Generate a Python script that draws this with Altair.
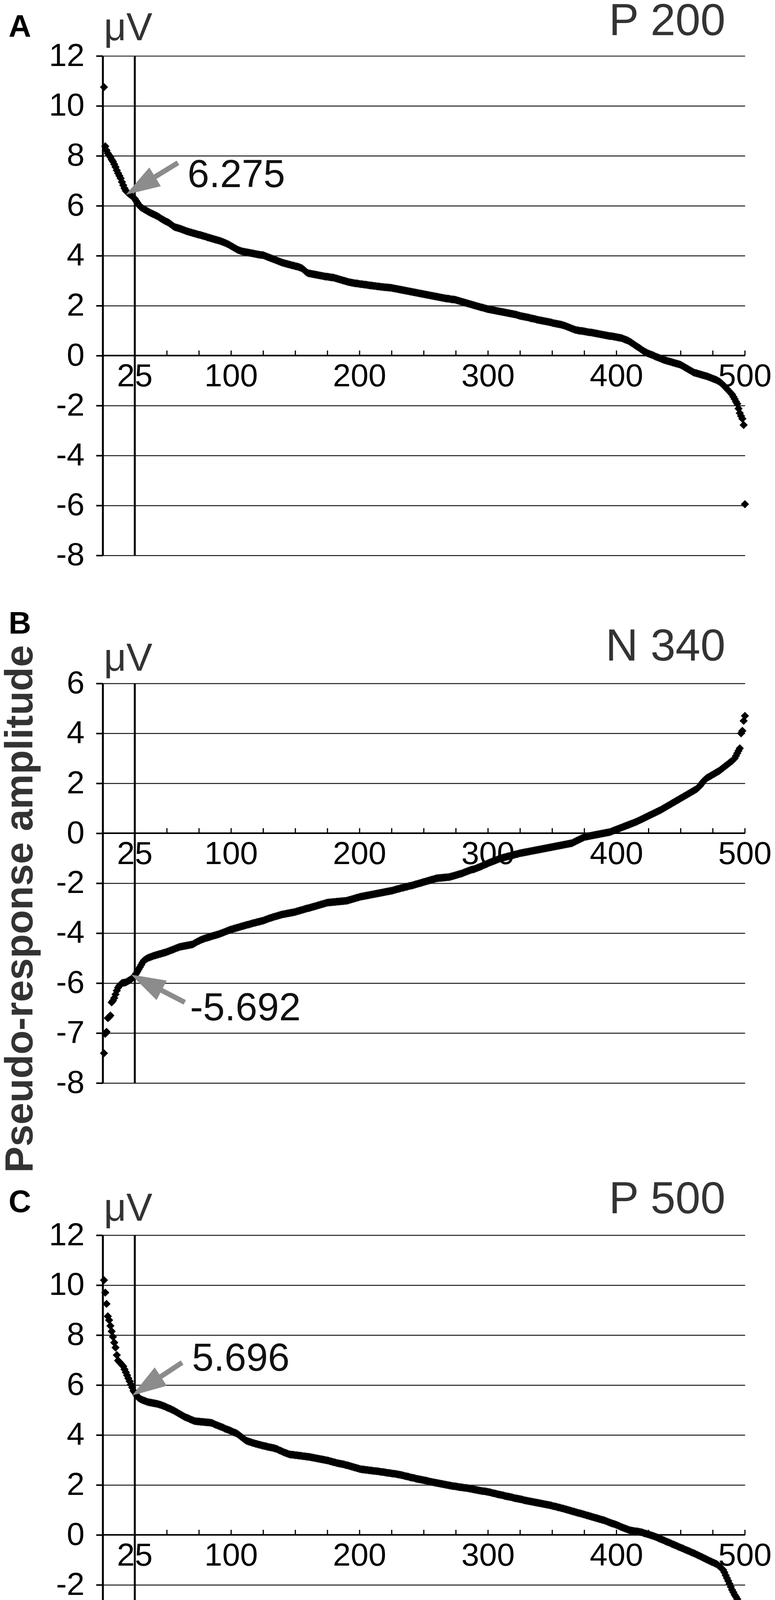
import math
import altair as alt
import pandas as pd

FONT = "Liberation Sans, Arial, Helvetica, sans-serif"

# ---------------- data ----------------
# P 200 : sorted pseudo-response amplitudes (µV), index 1..500
a_vals = [
    10.75, 8.38, 8.22, 8.1, 8.02, 7.95, 7.85, 7.77, 7.66, 7.55,
    7.42, 7.3, 7.2, 7.1, 6.95, 6.82, 6.7, 6.6, 6.55, 6.5,
    6.46, 6.42, 6.38, 6.33, 6.28, 6.2, 6.12, 6.05, 5.98, 5.93,
    5.9, 5.87, 5.84, 5.81, 5.78, 5.75, 5.72, 5.7, 5.67, 5.65,
    5.62, 5.6, 5.57, 5.54, 5.5, 5.47, 5.44, 5.41, 5.38, 5.36,
    5.33, 5.3, 5.26, 5.22, 5.18, 5.15, 5.13, 5.12, 5.1, 5.09,
    5.07, 5.05, 5.03, 5.01, 4.99, 4.97, 4.96, 4.94, 4.93, 4.91,
    4.9, 4.88, 4.87, 4.85, 4.84, 4.83, 4.81, 4.8, 4.78, 4.77,
    4.75, 4.73, 4.72, 4.7, 4.69, 4.67, 4.66, 4.64, 4.63, 4.61,
    4.6, 4.58, 4.56, 4.54, 4.52, 4.5, 4.47, 4.45, 4.42, 4.39,
    4.36, 4.33, 4.3, 4.27, 4.24, 4.22, 4.2, 4.18, 4.17, 4.16,
    4.15, 4.14, 4.13, 4.12, 4.11, 4.1, 4.09, 4.08, 4.07, 4.06,
    4.05, 4.04, 4.03, 4.03, 4.02, 4.0, 3.98, 3.96, 3.94, 3.92,
    3.9, 3.88, 3.86, 3.84, 3.82, 3.8, 3.78, 3.76, 3.74, 3.72,
    3.71, 3.69, 3.68, 3.66, 3.65, 3.64, 3.62, 3.61, 3.6, 3.58,
    3.57, 3.56, 3.54, 3.52, 3.5, 3.46, 3.42, 3.37, 3.33, 3.3,
    3.29, 3.28, 3.27, 3.26, 3.25, 3.24, 3.23, 3.22, 3.21, 3.2,
    3.19, 3.18, 3.17, 3.16, 3.16, 3.15, 3.14, 3.13, 3.13, 3.12,
    3.1, 3.09, 3.07, 3.06, 3.04, 3.03, 3.01, 3.0, 2.98, 2.97,
    2.95, 2.94, 2.93, 2.92, 2.91, 2.9, 2.89, 2.89, 2.88, 2.87,
    2.86, 2.86, 2.85, 2.84, 2.84, 2.83, 2.82, 2.81, 2.81, 2.8,
    2.79, 2.79, 2.78, 2.77, 2.77, 2.76, 2.75, 2.75, 2.74, 2.74,
    2.73, 2.73, 2.72, 2.72, 2.71, 2.7, 2.69, 2.68, 2.67, 2.66,
    2.65, 2.64, 2.63, 2.62, 2.61, 2.6, 2.59, 2.58, 2.57, 2.56,
    2.55, 2.54, 2.53, 2.52, 2.51, 2.5, 2.49, 2.48, 2.47, 2.46,
    2.45, 2.44, 2.43, 2.42, 2.41, 2.4, 2.39, 2.38, 2.37, 2.36,
    2.35, 2.34, 2.33, 2.32, 2.31, 2.3, 2.29, 2.28, 2.28, 2.27,
    2.26, 2.25, 2.25, 2.24, 2.23, 2.21, 2.2, 2.18, 2.17, 2.15,
    2.14, 2.12, 2.11, 2.09, 2.08, 2.06, 2.05, 2.03, 2.02, 2.0,
    1.99, 1.97, 1.96, 1.94, 1.93, 1.92, 1.9, 1.89, 1.87, 1.86,
    1.85, 1.84, 1.83, 1.82, 1.81, 1.8, 1.79, 1.78, 1.77, 1.76,
    1.75, 1.74, 1.73, 1.72, 1.71, 1.7, 1.69, 1.68, 1.67, 1.66,
    1.65, 1.64, 1.62, 1.61, 1.59, 1.58, 1.57, 1.56, 1.55, 1.54,
    1.53, 1.52, 1.5, 1.49, 1.48, 1.47, 1.46, 1.44, 1.43, 1.42,
    1.41, 1.4, 1.39, 1.38, 1.37, 1.36, 1.35, 1.34, 1.33, 1.31,
    1.3, 1.29, 1.28, 1.27, 1.26, 1.25, 1.24, 1.22, 1.21, 1.19,
    1.17, 1.15, 1.13, 1.11, 1.09, 1.07, 1.05, 1.03, 1.02, 1.01,
    1.0, 0.99, 0.99, 0.98, 0.97, 0.96, 0.95, 0.94, 0.93, 0.93,
    0.92, 0.91, 0.9, 0.89, 0.88, 0.87, 0.86, 0.85, 0.84, 0.83,
    0.82, 0.81, 0.8, 0.79, 0.78, 0.78, 0.77, 0.76, 0.75, 0.74,
    0.73, 0.72, 0.71, 0.7, 0.68, 0.66, 0.64, 0.62, 0.6, 0.57,
    0.54, 0.5, 0.47, 0.43, 0.4, 0.36, 0.33, 0.3, 0.26, 0.22,
    0.19, 0.16, 0.13, 0.1, 0.08, 0.06, 0.04, 0.02, 0.0, -0.03,
    -0.05, -0.07, -0.09, -0.11, -0.13, -0.15, -0.17, -0.19, -0.2, -0.22,
    -0.23, -0.25, -0.26, -0.28, -0.29, -0.31, -0.32, -0.34, -0.35, -0.37,
    -0.4, -0.43, -0.46, -0.49, -0.52, -0.55, -0.58, -0.61, -0.64, -0.67,
    -0.69, -0.7, -0.72, -0.73, -0.75, -0.76, -0.78, -0.79, -0.81, -0.82,
    -0.84, -0.86, -0.88, -0.9, -0.92, -0.94, -0.96, -0.98, -1.01, -1.04,
    -1.08, -1.12, -1.17, -1.22, -1.28, -1.33, -1.39, -1.44, -1.5, -1.56,
    -1.65, -1.74, -1.84, -1.93, -2.12, -2.3, -2.42, -2.53, -2.78, -5.95,
]

# N 340 : values in the figure's own (relabelled) axis units
b_vals = [
    -8.81, -8.03, -7.95, -7.4, -7.36, -7.3, -6.77, -6.7, -6.6, -6.45,
    -6.3, -6.18, -6.1, -6.05, -6.0, -5.99, -5.98, -5.97, -5.94, -5.91,
    -5.88, -5.85, -5.8, -5.75, -5.69, -5.62, -5.54, -5.45, -5.36, -5.27,
    -5.18, -5.1, -5.06, -5.03, -5.0, -4.98, -4.96, -4.94, -4.92, -4.9,
    -4.89, -4.87, -4.86, -4.84, -4.83, -4.81, -4.8, -4.78, -4.77, -4.75,
    -4.73, -4.71, -4.69, -4.67, -4.65, -4.63, -4.61, -4.59, -4.57, -4.55,
    -4.54, -4.53, -4.52, -4.51, -4.5, -4.49, -4.48, -4.47, -4.46, -4.45,
    -4.42, -4.39, -4.36, -4.33, -4.31, -4.28, -4.26, -4.24, -4.22, -4.2,
    -4.19, -4.17, -4.16, -4.14, -4.12, -4.11, -4.09, -4.08, -4.06, -4.05,
    -4.03, -4.01, -3.99, -3.97, -3.95, -3.93, -3.91, -3.89, -3.87, -3.85,
    -3.84, -3.82, -3.81, -3.79, -3.78, -3.76, -3.75, -3.73, -3.72, -3.7,
    -3.69, -3.67, -3.66, -3.65, -3.63, -3.62, -3.6, -3.59, -3.58, -3.56,
    -3.55, -3.54, -3.52, -3.51, -3.5, -3.48, -3.46, -3.44, -3.42, -3.4,
    -3.39, -3.37, -3.35, -3.34, -3.32, -3.31, -3.29, -3.28, -3.26, -3.25,
    -3.24, -3.23, -3.22, -3.21, -3.2, -3.19, -3.18, -3.17, -3.16, -3.15,
    -3.13, -3.12, -3.1, -3.09, -3.07, -3.06, -3.04, -3.03, -3.01, -3.0,
    -2.99, -2.97, -2.96, -2.94, -2.93, -2.91, -2.9, -2.88, -2.87, -2.85,
    -2.84, -2.82, -2.81, -2.79, -2.78, -2.77, -2.77, -2.76, -2.76, -2.75,
    -2.75, -2.74, -2.74, -2.73, -2.73, -2.72, -2.72, -2.71, -2.71, -2.7,
    -2.69, -2.67, -2.66, -2.64, -2.63, -2.61, -2.6, -2.58, -2.57, -2.55,
    -2.54, -2.53, -2.52, -2.51, -2.5, -2.49, -2.48, -2.47, -2.46, -2.45,
    -2.44, -2.43, -2.42, -2.41, -2.4, -2.39, -2.38, -2.37, -2.36, -2.35,
    -2.34, -2.33, -2.32, -2.31, -2.3, -2.29, -2.27, -2.26, -2.24, -2.23,
    -2.22, -2.2, -2.19, -2.18, -2.16, -2.15, -2.14, -2.12, -2.11, -2.1,
    -2.09, -2.07, -2.06, -2.04, -2.03, -2.01, -2.0, -1.98, -1.97, -1.95,
    -1.94, -1.92, -1.91, -1.89, -1.88, -1.86, -1.85, -1.83, -1.82, -1.8,
    -1.8, -1.79, -1.79, -1.78, -1.78, -1.77, -1.77, -1.76, -1.76, -1.75,
    -1.74, -1.72, -1.71, -1.69, -1.68, -1.66, -1.65, -1.63, -1.62, -1.6,
    -1.58, -1.56, -1.54, -1.52, -1.5, -1.48, -1.46, -1.45, -1.44, -1.42,
    -1.4, -1.38, -1.36, -1.34, -1.32, -1.29, -1.27, -1.25, -1.23, -1.2,
    -1.18, -1.16, -1.14, -1.12, -1.1, -1.08, -1.06, -1.04, -1.02, -1.0,
    -0.99, -0.97, -0.96, -0.95, -0.93, -0.92, -0.91, -0.89, -0.88, -0.87,
    -0.85, -0.84, -0.83, -0.81, -0.8, -0.79, -0.78, -0.77, -0.76, -0.75,
    -0.74, -0.73, -0.72, -0.71, -0.7, -0.69, -0.68, -0.67, -0.66, -0.65,
    -0.64, -0.63, -0.62, -0.61, -0.6, -0.59, -0.58, -0.57, -0.56, -0.55,
    -0.54, -0.53, -0.52, -0.51, -0.5, -0.49, -0.48, -0.47, -0.46, -0.45,
    -0.44, -0.43, -0.42, -0.41, -0.4, -0.38, -0.35, -0.33, -0.3, -0.28,
    -0.25, -0.23, -0.2, -0.18, -0.15, -0.14, -0.13, -0.12, -0.11, -0.1,
    -0.09, -0.08, -0.07, -0.06, -0.05, -0.04, -0.03, -0.02, -0.01, 0.0,
    0.01, 0.02, 0.03, 0.04, 0.05, 0.07, 0.09, 0.11, 0.13, 0.15,
    0.17, 0.19, 0.21, 0.23, 0.25, 0.27, 0.29, 0.31, 0.33, 0.35,
    0.37, 0.39, 0.41, 0.43, 0.45, 0.47, 0.5, 0.52, 0.55, 0.57,
    0.6, 0.62, 0.65, 0.67, 0.7, 0.72, 0.75, 0.77, 0.8, 0.82,
    0.85, 0.87, 0.9, 0.92, 0.95, 0.98, 1.01, 1.04, 1.07, 1.1,
    1.13, 1.16, 1.19, 1.22, 1.25, 1.28, 1.31, 1.34, 1.37, 1.4,
    1.43, 1.46, 1.49, 1.52, 1.55, 1.58, 1.61, 1.64, 1.67, 1.7,
    1.73, 1.76, 1.8, 1.85, 1.9, 1.97, 2.04, 2.1, 2.15, 2.2,
    2.23, 2.26, 2.29, 2.32, 2.35, 2.38, 2.41, 2.44, 2.47, 2.5,
    2.54, 2.58, 2.62, 2.66, 2.7, 2.74, 2.78, 2.82, 2.86, 2.9,
    2.95, 3.0, 3.1, 3.2, 3.3, 3.4, 4.0, 4.1, 4.5, 4.7,
]

# P 500
c_vals = [
    10.2, 9.7, 9.25, 8.75, 8.6, 8.37, 8.15, 7.93, 7.7, 7.5,
    7.2, 6.98, 6.92, 6.87, 6.81, 6.75, 6.63, 6.51, 6.39, 6.27,
    6.15, 6.02, 5.9, 5.77, 5.7, 5.62, 5.55, 5.48, 5.45, 5.42,
    5.4, 5.38, 5.36, 5.34, 5.32, 5.31, 5.3, 5.29, 5.28, 5.27,
    5.26, 5.25, 5.24, 5.22, 5.21, 5.19, 5.17, 5.15, 5.13, 5.1,
    5.08, 5.06, 5.04, 5.01, 4.99, 4.96, 4.93, 4.9, 4.87, 4.84,
    4.81, 4.78, 4.75, 4.72, 4.7, 4.68, 4.66, 4.63, 4.61, 4.59,
    4.57, 4.55, 4.55, 4.54, 4.54, 4.53, 4.53, 4.52, 4.52, 4.51,
    4.51, 4.5, 4.5, 4.49, 4.48, 4.46, 4.43, 4.41, 4.39, 4.37,
    4.35, 4.33, 4.31, 4.29, 4.26, 4.24, 4.22, 4.2, 4.18, 4.16,
    4.13, 4.11, 4.09, 4.07, 4.04, 4.0, 3.96, 3.92, 3.88, 3.84,
    3.8, 3.77, 3.75, 3.73, 3.72, 3.7, 3.68, 3.67, 3.65, 3.64,
    3.62, 3.61, 3.6, 3.58, 3.57, 3.56, 3.55, 3.53, 3.52, 3.51,
    3.5, 3.49, 3.48, 3.46, 3.45, 3.43, 3.4, 3.38, 3.36, 3.33,
    3.31, 3.29, 3.27, 3.25, 3.23, 3.22, 3.21, 3.21, 3.2, 3.19,
    3.19, 3.18, 3.17, 3.17, 3.16, 3.15, 3.15, 3.14, 3.13, 3.13,
    3.12, 3.11, 3.1, 3.09, 3.08, 3.07, 3.06, 3.05, 3.04, 3.03,
    3.02, 3.01, 3.0, 2.99, 2.98, 2.97, 2.95, 2.94, 2.92, 2.91,
    2.9, 2.88, 2.87, 2.86, 2.85, 2.84, 2.83, 2.82, 2.8, 2.79,
    2.78, 2.76, 2.75, 2.73, 2.72, 2.7, 2.69, 2.67, 2.66, 2.64,
    2.63, 2.62, 2.62, 2.61, 2.6, 2.6, 2.59, 2.58, 2.58, 2.57,
    2.56, 2.56, 2.55, 2.55, 2.54, 2.53, 2.52, 2.52, 2.51, 2.5,
    2.49, 2.48, 2.48, 2.47, 2.46, 2.45, 2.45, 2.44, 2.43, 2.42,
    2.41, 2.4, 2.39, 2.38, 2.36, 2.35, 2.34, 2.33, 2.31, 2.3,
    2.29, 2.28, 2.27, 2.25, 2.24, 2.23, 2.22, 2.21, 2.2, 2.19,
    2.18, 2.17, 2.16, 2.14, 2.13, 2.12, 2.11, 2.1, 2.09, 2.08,
    2.07, 2.06, 2.05, 2.04, 2.03, 2.02, 2.01, 2.0, 1.99, 1.98,
    1.97, 1.96, 1.95, 1.95, 1.94, 1.93, 1.92, 1.91, 1.91, 1.9,
    1.89, 1.88, 1.88, 1.87, 1.86, 1.85, 1.84, 1.83, 1.82, 1.81,
    1.8, 1.79, 1.78, 1.77, 1.76, 1.75, 1.75, 1.74, 1.73, 1.72,
    1.71, 1.7, 1.68, 1.67, 1.66, 1.65, 1.63, 1.62, 1.61, 1.6,
    1.59, 1.58, 1.56, 1.55, 1.54, 1.53, 1.52, 1.51, 1.5, 1.48,
    1.47, 1.46, 1.45, 1.44, 1.43, 1.42, 1.41, 1.39, 1.38, 1.37,
    1.36, 1.35, 1.34, 1.33, 1.32, 1.31, 1.3, 1.29, 1.28, 1.27,
    1.26, 1.25, 1.24, 1.23, 1.22, 1.21, 1.2, 1.19, 1.18, 1.16,
    1.15, 1.14, 1.13, 1.11, 1.1, 1.09, 1.07, 1.06, 1.05, 1.03,
    1.02, 1.0, 0.99, 0.97, 0.96, 0.94, 0.93, 0.91, 0.9, 0.88,
    0.87, 0.86, 0.84, 0.83, 0.81, 0.8, 0.78, 0.77, 0.75, 0.74,
    0.72, 0.71, 0.69, 0.68, 0.66, 0.65, 0.63, 0.62, 0.6, 0.59,
    0.57, 0.55, 0.53, 0.51, 0.49, 0.47, 0.45, 0.44, 0.42, 0.4,
    0.38, 0.36, 0.33, 0.31, 0.29, 0.27, 0.25, 0.23, 0.21, 0.19,
    0.18, 0.17, 0.16, 0.15, 0.14, 0.14, 0.13, 0.12, 0.11, 0.1,
    0.08, 0.06, 0.05, 0.03, 0.02, 0.0, -0.02, -0.03, -0.05, -0.07,
    -0.09, -0.11, -0.14, -0.16, -0.18, -0.2, -0.22, -0.25, -0.27, -0.29,
    -0.31, -0.33, -0.36, -0.38, -0.4, -0.42, -0.44, -0.47, -0.49, -0.51,
    -0.53, -0.55, -0.58, -0.6, -0.62, -0.64, -0.66, -0.69, -0.71, -0.73,
    -0.75, -0.78, -0.8, -0.83, -0.85, -0.88, -0.9, -0.93, -0.95, -0.98,
    -1.0, -1.03, -1.05, -1.08, -1.1, -1.12, -1.15, -1.17, -1.21, -1.26,
    -1.3, -1.35, -1.4, -1.5, -1.62, -1.73, -1.84, -1.96, -2.08, -2.2,
    -2.3, -2.4, -2.48, -2.57, -2.68, -2.79, -2.86, -2.94, -3.8, -4.29,
]

x_ticks = [25, 50, 75, 100, 125, 150, 175, 200, 225, 250,
           275, 300, 325, 350, 375, 400, 425, 450, 475, 500]
x_tick_labels = [25, 100, 200, 300, 400, 500]
cut_index = 25

a_y_ticks = [12, 10, 8, 6, 4, 2, 0, -2, -4, -6, -8]
a_y_text = ["12", "10", "8", "6", "4", "2", "0", "-2", "-4", "-6", "-8"]
b_y_ticks = [6, 4, 2, 0, -2, -4, -6, -8, -10]
b_y_text = ["6", "4", "2", "0", "-2", "-4", "-6", "-7", "-8"]
c_y_ticks = [12, 10, 8, 6, 4, 2, 0, -2, -4, -6]
c_y_text = ["12", "10", "8", "6", "4", "2", "0", "-2", "-4", "-6"]

panel_letters = ["A", "B", "C"]
panel_names = ["P 200", "N 340", "P 500"]
cut_values = ["6.275", "-5.692", "5.696"]
# annotation anchors in data units: label (x, y), arrow tail (x, y), arrow tip (x, y)
label_pos = [(66, 7.21), (68, -7.02), (69.5, 7.05)]
arrow_tail = [(58.6, 7.72), (63.9, -6.77), (61.8, 6.9)]
arrow_tip = [(18.0, 6.44), (22.1, -5.66), (22.9, 5.58)]

unit_label = "μV"
y_title = "Pseudo-response amplitude"
x_title = "N pseudo-response, sorted"

# ---------------- layout / style ----------------
PLOT_W = 1645
PX_Y = 64.0
GRAY = "#8c8c8c"
TXT_GRAY = "#333333"
HEAD_LEN = 88
HEAD_PATH = "M0,-1L-0.64,1L0.64,1Z"


def label_expr(ticks, texts):
    expr = "''"
    for v, t in zip(reversed(ticks), reversed(texts)):
        expr = f"datum.value == {v} ? '{t}' : ({expr})"
    return expr


def txt(s, x, y, size, color, align="left", weight="normal", angle=0):
    return alt.Chart(pd.DataFrame({"t": [s]})).mark_text(
        font=FONT, fontSize=size, color=color, align=align,
        baseline="alphabetic", fontWeight=weight, angle=angle,
    ).encode(x=alt.value(x), y=alt.value(y), text="t:N")


def panel(i, vals, domain, ticks, texts, letter_y, uv_y, name_y, extra_h=0, extras=()):
    plot_h = round((domain[1] - domain[0]) * PX_Y)
    xs = PLOT_W / 500.0
    ys = plot_h / float(domain[1] - domain[0])
    xsc = alt.Scale(domain=[0, 500], nice=False, zero=False)
    ysc = alt.Scale(domain=domain, nice=False, zero=False, range=[plot_h, 0])

    yaxis = alt.Axis(
        values=ticks, labelExpr=label_expr(ticks, texts), title=None,
        grid=True, gridColor="#1a1a1a", gridWidth=2.5, gridOpacity=1,
        domainColor="#000000", domainWidth=5, tickColor="#000000",
        tickWidth=4, tickSize=17, labelFontSize=82, labelFont=FONT,
        labelColor="#000000", labelPadding=30, labelOverlap=False,
        labelFlush=False,
    )

    def X(f):
        return alt.X(f, type="quantitative", scale=xsc, axis=None)

    def Y(f):
        return alt.Y(f, type="quantitative", scale=ysc, axis=yaxis)

    pts = pd.DataFrame({"x": list(range(1, len(vals) + 1)), "y": vals})
    points = alt.Chart(pts).mark_point(
        shape="diamond", filled=True, size=440, color="#000000", opacity=1
    ).encode(x=X("x"), y=Y("y"))

    cut = alt.Chart(pd.DataFrame({"x": [cut_index], "y": [domain[1]], "y2": [domain[0]]})).mark_rule(
        color="#000000", strokeWidth=5
    ).encode(x=X("x"), y=Y("y"), y2="y2")

    zero = alt.Chart(pd.DataFrame({"y": [0], "x": [0], "x2": [500]})).mark_rule(
        color="#000000", strokeWidth=4
    ).encode(y=Y("y"), x=X("x"), x2="x2")

    tk = alt.Chart(pd.DataFrame({"x": x_ticks, "y": [0] * len(x_ticks)})).mark_rule(
        color="#000000", strokeWidth=3, y2Offset=-13
    ).encode(x=X("x"), y=Y("y"), y2=alt.Y2("y"))

    tl = alt.Chart(pd.DataFrame({
        "x": x_tick_labels, "y": [0] * len(x_tick_labels),
        "t": [str(v) for v in x_tick_labels]})).mark_text(
        font=FONT, fontSize=82, color="#000000", baseline="alphabetic",
        align="center", dy=79
    ).encode(x=X("x"), y=Y("y"), text="t:N")

    tail, tip = arrow_tail[i], arrow_tip[i]
    dxp = (tip[0] - tail[0]) * xs
    dyp = -(tip[1] - tail[1]) * ys
    L = math.hypot(dxp, dyp)
    ux, uy = dxp / L, dyp / L
    ang = math.degrees(math.atan2(ux, -uy)) % 360
    hx = tip[0] - (HEAD_LEN / 2.0) * ux / xs
    hy = tip[1] + (HEAD_LEN / 2.0) * uy / ys

    shaft = alt.Chart(pd.DataFrame({"x": [tail[0]], "y": [tail[1]], "x2": [hx], "y2": [hy]})).mark_rule(
        color=GRAY, strokeWidth=13
    ).encode(x=X("x"), y=Y("y"), x2="x2", y2="y2")
    head = alt.Chart(pd.DataFrame({"x": [hx], "y": [hy]})).mark_point(
        shape=HEAD_PATH, filled=True, size=HEAD_LEN ** 2, color=GRAY,
        opacity=1, angle=ang, strokeWidth=0
    ).encode(x=X("x"), y=Y("y"))

    lx, ly = label_pos[i]
    vlab = alt.Chart(pd.DataFrame({"x": [lx], "y": [ly], "t": [cut_values[i]]})).mark_text(
        font=FONT, fontSize=100, color="#111111", align="left", baseline="middle"
    ).encode(x=X("x"), y=Y("y"), text="t:N")

    layers = [zero, tk, cut, tl, points, shaft, head, vlab,
              txt(panel_letters[i], -241, letter_y, 80, "#000000", weight="bold"),
              txt(unit_label, 3, uv_y, 100, TXT_GRAY),
              txt(panel_names[i], 1595, name_y, 115, TXT_GRAY, align="right")]
    layers += list(extras)
    return alt.layer(*layers).properties(width=PLOT_W, height=plot_h + extra_h)


ytitle_layer = txt(y_title, -180, 578, 101, TXT_GRAY, align="center", weight="bold", angle=270)
xtitle_layer = txt(x_title, 1640, 1274, 100, TXT_GRAY, align="right")

pA = panel(0, a_vals, [-8, 12], a_y_ticks, a_y_text, -49, -40, -53)
pB = panel(1, b_vals, [-10, 6], b_y_ticks, b_y_text, -128, -33, -59, extra_h=62,
           extras=[ytitle_layer])
pC = panel(2, c_vals, [-6, 12], c_y_ticks, c_y_text, -59, -37, -56, extra_h=145,
           extras=[xtitle_layer])

chart = alt.vconcat(
    pA, pB, pC, spacing=328, bounds="flush",
    padding={"left": -7, "top": -12, "right": 0, "bottom": 0},
    background="white",
).configure_view(stroke=None)

chart.save("out.html", embed_options={"renderer": "svg", "actions": False})
